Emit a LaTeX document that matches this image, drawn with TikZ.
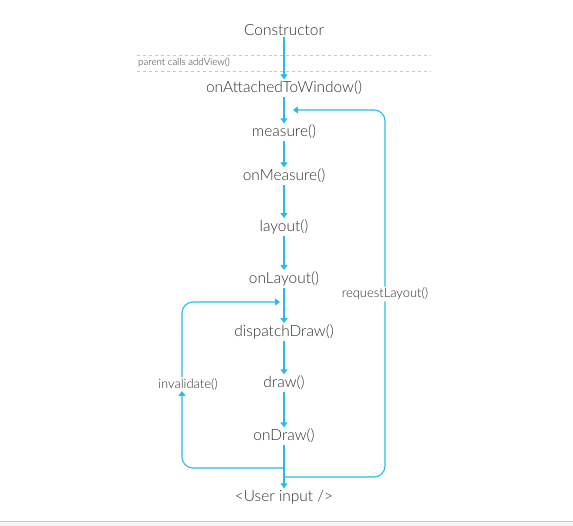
\documentclass[tikz,border=0pt]{standalone}
\usepackage{fontspec}
\setmainfont{Lato Light}
\usetikzlibrary{arrows.meta,calc}
\definecolor{flow}{HTML}{29B9EA}
\definecolor{ink}{HTML}{303030}
\definecolor{rule}{HTML}{C8C8C8}
\tikzset{call/.style={font=\fontsize{15.5}{18}\selectfont,text=ink,inner sep=1.5pt},
note/.style={font=\fontsize{13}{15}\selectfont,text=ink,inner sep=1pt,fill=white},
hook/.style={font=\fontsize{9.8}{11}\selectfont,text=ink,inner sep=0pt},
go/.style={-{Triangle[length=5pt,width=7pt]},flow,line width=1.1pt},
back/.style={flow,line width=1.1pt,rounded corners=11pt}}
\begin{document}
\begin{tikzpicture}[x=1bp,y=1bp]
\useasboundingbox (0,0) rectangle (573,526);
\fill[gray!8] (0,0) rectangle (573,5);
\draw[rule] (0,5)--(573,5);
% steps of the view life cycle
\node[call] (ctor) at (284,496) {Constructor};
\node[call] (attach) at (284,438) {onAttachedToWindow()};
\node[call] (measure) at (284,394) {measure()};
\node[call] (onmeasure) at (284,350) {onMeasure()};
\node[call] (layout) at (284,299) {layout()};
\node[call] (onlayout) at (284,247) {onLayout()};
\node[call] (dispatch) at (284,194) {dispatchDraw()};
\node[call] (draw) at (284,143) {draw()};
\node[call] (ondraw) at (284,90) {onDraw()};
\node[call] (input) at (284,29) {<User input />};
% addView band
\draw[rule,dashed] (137,471)--(430,471);
\draw[rule,dashed] (137,455)--(430,455);
\node[hook,anchor=west] (addview) at (138,463) {parent calls addView()};
\foreach \a/\b in {ctor/attach,attach/measure,measure/onmeasure,onmeasure/layout,
layout/onlayout,onlayout/dispatch,dispatch/draw,draw/ondraw,ondraw/input}
\draw[go] (\a.south)--(\b.north);
% loops back
\node[note] (request) at (385,232) {requestLayout()};
\node[note] (invalid) at (188,142) {invalidate()};
\coordinate (rl) at (284,49);
\coordinate (rtop) at (293,416);
\coordinate (ll) at (284,58);
\coordinate (ltop) at (280,224);
\draw[back] (rl)--(385,49)--(request.south);
\draw[back,go] (request.north)--(385,416)--(rtop);
\draw[back,go] (ll)--(182,58)--($(invalid.south)+(-6,0)$);
\draw[back,go] ($(invalid.north)+(-6,0)$)--(182,224)--(ltop);
\end{tikzpicture}
\end{document}
